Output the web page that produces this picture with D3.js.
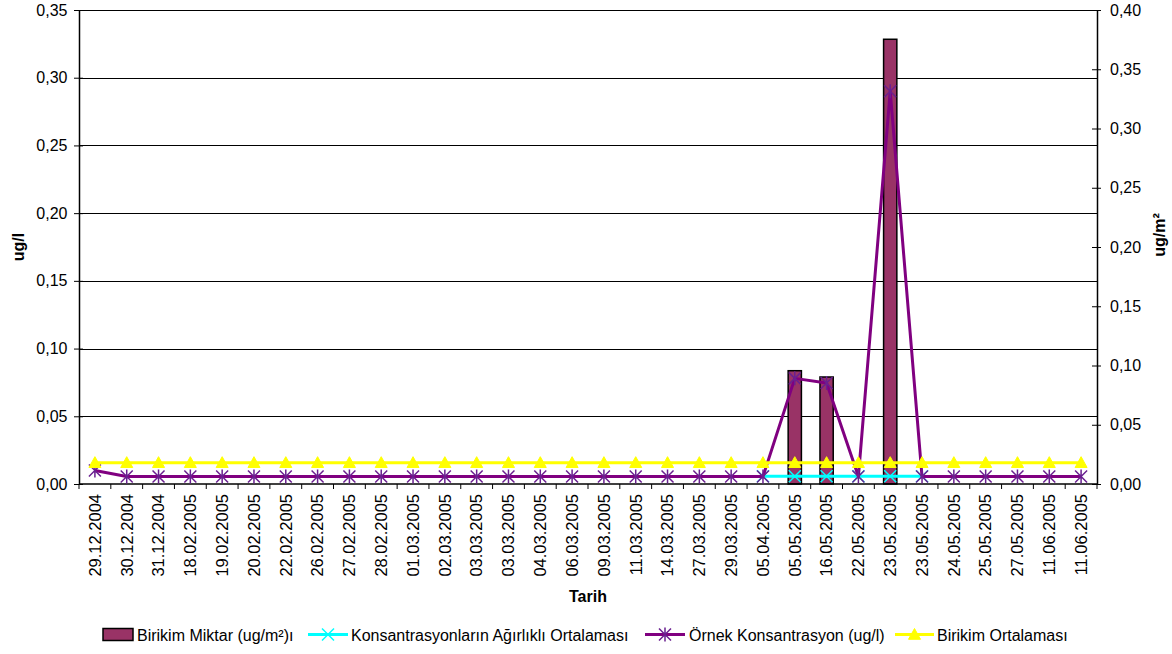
<!DOCTYPE html>
<html><head><meta charset="utf-8">
<script src="https://cdn.jsdelivr.net/npm/d3@7"></script>
<style>body{margin:0;background:#fff}svg{display:block;font-family:"Liberation Sans",Arial,sans-serif}</style>
</head><body><svg id="c" width="1172" height="654"></svg>
<script>
const categories = ["29.12.2004","30.12.2004","31.12.2004","18.02.2005","19.02.2005","20.02.2005","22.02.2005","26.02.2005","27.02.2005","28.02.2005","01.03.2005","02.03.2005","03.03.2005","03.03.2005","04.03.2005","06.03.2005","09.03.2005","11.03.2005","14.03.2005","27.03.2005","29.03.2005","05.04.2005","05.05.2005","16.05.2005","22.05.2005","23.05.2005","23.05.2005","24.05.2005","25.05.2005","27.05.2005","11.06.2005","11.06.2005"];
// Birikim Miktar (ug/m²) - right axis
const birikimMiktar = [null,null,null,null,null,null,null,null,null,null,null,null,null,null,null,null,null,null,null,null,null,null,0.0956,0.0903,null,0.3753,null,null,null,null,null,null];
// Konsantrasyonların Ağırlıklı Ortalaması - left axis
const agirlikliOrtalama = [null,null,null,null,null,null,null,null,null,null,null,null,null,null,null,null,null,null,null,null,null,0.0057,0.0057,0.0057,0.0057,0.0057,0.0057,null,null,null,null,null];
// Örnek Konsantrasyon (ug/l) - left axis
const ornekKonsantrasyon = [0.0100,0.0055,0.0055,0.0055,0.0055,0.0055,0.0055,0.0055,0.0055,0.0055,0.0055,0.0055,0.0055,0.0055,0.0055,0.0055,0.0055,0.0055,0.0055,0.0055,0.0055,0.0055,0.0780,0.0746,0.0055,0.2900,0.0055,0.0055,0.0055,0.0055,0.0055,0.0055];
// Birikim Ortalaması - right axis
const birikimOrtalamasi = [0.018,0.018,0.018,0.018,0.018,0.018,0.018,0.018,0.018,0.018,0.018,0.018,0.018,0.018,0.018,0.018,0.018,0.018,0.018,0.018,0.018,0.018,0.018,0.018,0.018,0.018,0.018,0.018,0.018,0.018,0.018,0.018];
const leftTicks = [0,0.05,0.10,0.15,0.20,0.25,0.30,0.35];
const rightTicks = [0,0.05,0.10,0.15,0.20,0.25,0.30,0.35,0.40];
const legendLabels = ["Birikim Miktar (ug/m²)ı","Konsantrasyonların Ağırlıklı Ortalaması","Örnek Konsantrasyon (ug/l)","Birikim Ortalaması"];

const svg = d3.select("#c");
const L=79,R=1097,T=10,B=484;
const x = d3.scaleBand().domain(d3.range(categories.length)).range([L,R]);
const yL = d3.scaleLinear().domain([0,0.35]).range([B,T]);
const yR = d3.scaleLinear().domain([0,0.40]).range([B,T]);
const fmt = d => d3.format(".2f")(d).replace(".",",");
const cx = i => x(i)+x.bandwidth()/2;
const FS = 16;

// gridlines
svg.append("g").selectAll("line").data(leftTicks.slice(1)).join("line")
  .attr("x1",L).attr("x2",R).attr("y1",d=>Math.round(yL(d))+0.5).attr("y2",d=>Math.round(yL(d))+0.5)
  .attr("stroke","#000").attr("stroke-width",1);

// bars
const bw = x.bandwidth()/2.4;
svg.append("g").selectAll("rect").data(birikimMiktar.map((v,i)=>({v,i})).filter(d=>d.v!=null)).join("rect")
  .attr("x",d=>cx(d.i)-bw/2).attr("width",bw).attr("y",d=>yR(d.v)).attr("height",d=>B-yR(d.v))
  .attr("fill","#993366").attr("stroke","#000").attr("stroke-width",1.5);

// axes
const axL = svg.append("g").attr("transform",`translate(${L},0)`).call(d3.axisLeft(yL).tickValues(leftTicks).tickFormat(fmt).tickSize(5).tickSizeOuter(0));
axL.selectAll(".tick line").attr("x2",-5).attr("x1",4);
axL.selectAll(".tick text").attr("x",-11.5);
const axR = svg.append("g").attr("transform",`translate(${R},0)`).call(d3.axisRight(yR).tickValues(rightTicks).tickFormat(fmt).tickSize(4).tickSizeOuter(0));
axR.selectAll(".tick line").attr("x1",-5);
axR.selectAll(".tick text").attr("x",13);
[axL,axR].forEach(a=>{a.selectAll("text").attr("font-size",FS).attr("font-family","Liberation Sans, Arial, sans-serif").attr("fill","#000");
  a.select(".domain").attr("stroke","#000").attr("stroke-width",1.5);a.selectAll(".tick line").attr("stroke","#000");});

// x axis
svg.append("line").attr("x1",L).attr("x2",R).attr("y1",B).attr("y2",B).attr("stroke","#000").attr("stroke-width",1.5);
const bounds = d3.range(categories.length+1).map(i=> i<categories.length ? x(i) : R);
svg.append("g").selectAll("line").data(bounds).join("line")
  .attr("x1",d=>d).attr("x2",d=>d).attr("y1",B).attr("y2",B+5).attr("stroke","#000");
svg.append("g").selectAll("text").data(categories).join("text")
  .attr("transform",(d,i)=>`translate(${cx(i)+5.8},${B+10}) rotate(-90)`)
  .attr("text-anchor","end").attr("font-size",16.5).attr("fill","#000").text(d=>d);

// line series helper
function series(vals, scale, color, width){
  const line = d3.line().defined(d=>d!=null).x((d,i)=>cx(i)).y(d=>scale(d));
  svg.append("path").datum(vals).attr("d",line).attr("fill","none").attr("stroke",color).attr("stroke-width",width).attr("stroke-linejoin","round");
}
function xMarker(g,px,py,color,s){
  g.append("path").attr("d",`M${px-s},${py-s}L${px+s},${py+s}M${px-s},${py+s}L${px+s},${py-s}`).attr("stroke",color).attr("stroke-width",1.5).attr("fill","none");
}
function starMarker(g,px,py,color,s){
  g.append("path").attr("d",`M${px-s},${py-s}L${px+s},${py+s}M${px-s},${py+s}L${px+s},${py-s}M${px},${py-s-1}L${px},${py+s+1}`).attr("stroke",color).attr("stroke-width",1.5).attr("fill","none");
}
function triMarker(g,px,py,color,s){
  g.append("path").attr("d",`M${px},${py-s}L${px+s},${py+s*0.8}L${px-s},${py+s*0.8}Z`).attr("fill",color).attr("stroke",color);
}

series(agirlikliOrtalama,yL,"#00FFFF",3);
const gC = svg.append("g");
agirlikliOrtalama.forEach((v,i)=>{ if(v!=null) xMarker(gC,cx(i),yL(v),"#00FFFF",6); });
series(ornekKonsantrasyon,yL,"#800080",3);
const gP = svg.append("g");
ornekKonsantrasyon.forEach((v,i)=>{ if(v!=null) starMarker(gP,cx(i),yL(v),"#6a2090",6); });
series(birikimOrtalamasi,yR,"#FFFF00",3);
const gY = svg.append("g");
birikimOrtalamasi.forEach((v,i)=>{ if(v!=null) triMarker(gY,cx(i),yR(v),"#FFFF00",6); });

// axis titles
svg.append("text").attr("transform","translate(24,247) rotate(-90)").attr("text-anchor","middle").attr("font-size",FS).attr("font-weight","bold").text("ug/l");
svg.append("text").attr("transform","translate(1165,235) rotate(-90)").attr("text-anchor","middle").attr("font-size",FS).attr("font-weight","bold").text("ug/m²");
svg.append("text").attr("x",588).attr("y",602).attr("text-anchor","middle").attr("font-size",FS).attr("font-weight","bold").text("Tarih");

// legend
const ly = 634.5, lb = 641;
const lg = svg.append("g");
lg.append("rect").attr("x",103).attr("y",ly-6).attr("width",30).attr("height",12).attr("fill","#993366").attr("stroke","#000").attr("stroke-width",1.5);
lg.append("text").attr("x",137).attr("y",lb).attr("font-size",FS).text(legendLabels[0]);
lg.append("line").attr("x1",308).attr("x2",348).attr("y1",ly).attr("y2",ly).attr("stroke","#00FFFF").attr("stroke-width",3);
xMarker(lg,328,ly,"#00FFFF",6);
lg.append("text").attr("x",351).attr("y",lb).attr("font-size",FS).text(legendLabels[1]);
lg.append("line").attr("x1",645).attr("x2",685).attr("y1",ly).attr("y2",ly).attr("stroke","#800080").attr("stroke-width",3);
starMarker(lg,665,ly,"#6a2090",6);
lg.append("text").attr("x",689).attr("y",lb).attr("font-size",FS).text(legendLabels[2]);
lg.append("line").attr("x1",895).attr("x2",934).attr("y1",ly).attr("y2",ly).attr("stroke","#FFFF00").attr("stroke-width",3);
triMarker(lg,914.5,ly,"#FFFF00",6);
lg.append("text").attr("x",937).attr("y",lb).attr("font-size",FS).text(legendLabels[3]);
</script></body></html>
